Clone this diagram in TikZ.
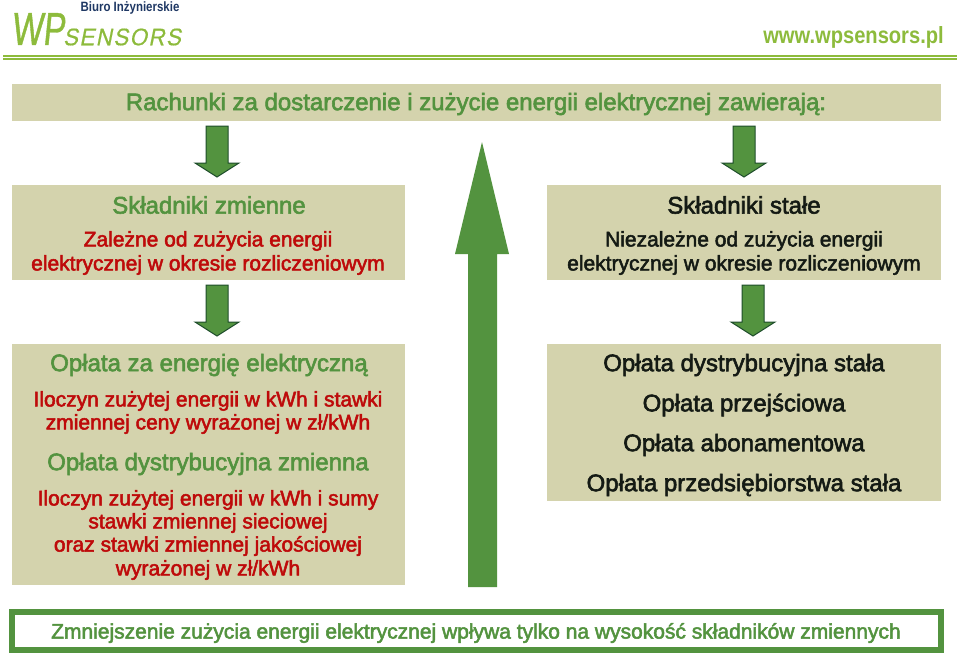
\documentclass[tikz,border=0pt]{standalone}
\usepackage{fontspec}
\setmainfont{Liberation Sans}
\newfontfamily\semib{Liberation Sans}[FakeBold=2.4]
\definecolor{bandc}{HTML}{D4D3AD}
\definecolor{greenc}{HTML}{53933F}
\definecolor{darkc}{HTML}{141A14}
\definecolor{edgec}{HTML}{1E4D2B}
\definecolor{redc}{HTML}{BE0A0A}
\definecolor{limec}{HTML}{8DBB3C}
\definecolor{navyc}{HTML}{1F3864}
\tikzset{
 band/.style={fill=bandc,draw=none},
 txt/.style={inner sep=0pt,align=center,anchor=center,font=\semib},
 greentxt/.style={txt,text=greenc},
 redtxt/.style={txt,text=redc},
 darktxt/.style={txt,text=darkc},
 pics/downarrow/.style={code={
  \path[fill=greenc,draw=edgec,line width=1pt] (-11,0)--(11,0)--(11,37)--(22,37)--(0,51)--(-22,37)--(-11,37)--cycle;
 }}
}
\newcommand{\fs}[1]{\fontsize{#1}{#1}\selectfont}
\begin{document}
\begin{tikzpicture}[x=1pt,y=-1pt]
\useasboundingbox (0,0) rectangle (960,656);
\fill[white] (0,0) rectangle (960,656);
% header
\fill[limec] (3,55) rectangle (957,57);
\fill[limec] (3,58) rectangle (957,60);
\node[inner sep=0pt,text=navyc] (biuro) at (130,8) {\fs{13.5}\bfseries\addfontfeature{FakeStretch=0.85}Biuro Inżynierskie};
\node[inner sep=0pt,text=limec] (wp) at (38,29) {\fs{46}\addfontfeature{FakeStretch=0.72,FakeSlant=0.1,FakeBold=0.8}WP};
\node[inner sep=0pt,text=limec] (sensors) at (122,37) {\fs{24}\addfontfeature{FakeSlant=0.2,LetterSpace=6,FakeStretch=0.93,FakeBold=0.5}SENSORS};
\node[inner sep=0pt,text=limec] (www) at (853.5,37) {\fs{23.4}\bfseries\addfontfeature{FakeStretch=0.86}www.wpsensors.pl};
% bands
\fill[band] (12,84) rectangle (941,121);
\fill[band] (12,185) rectangle (405,280);
\fill[band] (547,185) rectangle (941,280);
\fill[band] (12,344) rectangle (405,585);
\fill[band] (547,344) rectangle (941,501);
\node[greentxt] (title) at (476,104) {\fs{24}Rachunki za dostarczenie i zużycie energii elektrycznej zawierają:};
% small arrows
\pic at (217,126) {downarrow};
\pic at (217,285) {downarrow};
\pic at (744,126) {downarrow};
\pic at (753,285) {downarrow};
% big arrow
\path[fill=greenc] (482,142)--(509,254)--(497,254)--(497,587)--(468,587)--(468,254)--(455,254)--cycle;
% left top
\node[greentxt] (sz) at (209,205) {\fs{24}Składniki zmienne};
\node[redtxt] (z1) at (208,241) {\fs{21}Zależne od zużycia energii};
\node[redtxt] (z2) at (208,265) {\fs{21}elektrycznej w okresie rozliczeniowym};
% right top
\node[darktxt] (ss) at (744,205) {\fs{24}Składniki stałe};
\node[darktxt] (n1) at (744,241) {\fs{21}Niezależne od zużycia energii};
\node[darktxt] (n2) at (744,265) {\fs{21}elektrycznej w okresie rozliczeniowym};
% left lower
\node[greentxt] (l1) at (209,365) {\fs{24}Opłata za energię elektryczną};
\node[redtxt] (l2) at (208,401) {\fs{21}Iloczyn zużytej energii w kWh i stawki};
\node[redtxt] (l3) at (208,424) {\fs{21}zmiennej ceny wyrażonej w zł/kWh};
\node[greentxt] (l4) at (208,464) {\fs{24}Opłata dystrybucyjna zmienna};
\node[redtxt] (l5) at (208,500) {\fs{21}Iloczyn zużytej energii w kWh i sumy};
\node[redtxt] (l6) at (208,523) {\fs{21}stawki zmiennej sieciowej};
\node[redtxt] (l7) at (208,546) {\fs{21}oraz stawki zmiennej jakościowej};
\node[redtxt] (l8) at (208,570) {\fs{21}wyrażonej w zł/kWh};
% right lower
\node[darktxt] (r1) at (744,365) {\fs{24}Opłata dystrybucyjna stała};
\node[darktxt] (r2) at (744,405) {\fs{24}Opłata przejściowa};
\node[darktxt] (r3) at (744,445) {\fs{24}Opłata abonamentowa};
\node[darktxt] (r4) at (744,485) {\fs{24}Opłata przedsiębiorstwa stała};
% bottom
\draw[greenc,line width=6.5pt] (12,612) rectangle (941,650);
\node[greentxt] (b) at (476,633) {\fs{21}Zmniejszenie zużycia energii elektrycznej wpływa tylko na wysokość składników zmiennych};
\end{tikzpicture}
\end{document}
